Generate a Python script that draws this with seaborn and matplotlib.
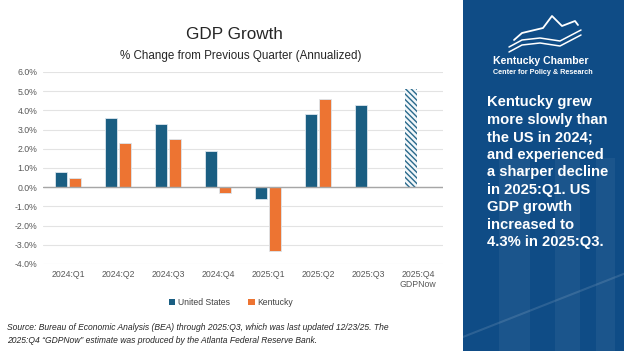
import numpy as np
import pandas as pd
import matplotlib
matplotlib.use("Agg")
import matplotlib.pyplot as plt
from matplotlib.patches import Patch, Rectangle
from matplotlib.lines import Line2D
from matplotlib.ticker import PercentFormatter
import seaborn as sns

quarters = ["2024:Q1", "2024:Q2", "2024:Q3", "2024:Q4", "2025:Q1", "2025:Q2", "2025:Q3", "2025:Q4\nGDPNow"]
us_growth = [0.8, 3.6, 3.3, 1.9, -0.6, 3.8, 4.3, 5.1]
ky_growth = [0.5, 2.3, 2.5, -0.3, -3.3, 4.6, np.nan, np.nan]
series = ["United States", "Kentucky"]
colors = ["#1a5e82", "#ed7432"]

df = pd.DataFrame({
    "Quarter": quarters * 2,
    "Growth": us_growth + ky_growth,
    "Series": [series[0]] * len(quarters) + [series[1]] * len(quarters),
})

sns.set_style("white")
plt.rcParams["font.family"] = ["Liberation Sans", "DejaVu Sans"]
plt.rcParams["axes.unicode_minus"] = False
plt.rcParams["hatch.linewidth"] = 1.0

fig = plt.figure(figsize=(6.24, 3.51), dpi=100)
ax = fig.add_axes([0.069, 0.248, 0.641, 0.547])

sns.barplot(data=df, x="Quarter", y="Growth", hue="Series", palette=colors, saturation=1,
            width=0.56, gap=0.18, ax=ax, legend=False,
            edgecolor="#dbe6ee", linewidth=0.6)

# GDPNow estimate bar is hatched
gdpnow = ax.containers[0].patches[-1]
gdpnow.set_facecolor("#f2f7fa")
gdpnow.set_edgecolor("#2a6a8c")
gdpnow.set_hatch("\\\\\\\\\\\\")
gdpnow.set_linewidth(0)

ax.set_ylim(-4, 6)
ax.set_xlim(-0.5, len(quarters) - 0.5)
ax.set_yticks(np.arange(-4, 7, 1))
ax.yaxis.set_major_formatter(PercentFormatter(decimals=1))
ax.grid(axis="y", color="#e3e3e3", linewidth=0.8)
ax.set_axisbelow(True)
ax.axhline(0, color="#a6a6a6", linewidth=1.0)
for s in ax.spines.values():
    s.set_visible(False)
ax.tick_params(axis="both", length=0, labelsize=6.3, colors="#595959", pad=4)
ax.set_xlabel("")
ax.set_ylabel("")

fig.text(0.375, 0.903, "GDP Growth", ha="center", va="center", fontsize=12.3, color="#262626")
fig.text(0.385, 0.840, "% Change from Previous Quarter (Annualized)", ha="center", va="center",
         fontsize=8.4, color="#262626")

handles = [Patch(facecolor=c, edgecolor="none") for c in colors]
fig.legend(handles, series, loc="center", bbox_to_anchor=(0.37, 0.137), ncol=2, frameon=False,
           fontsize=6.2, handlelength=0.7, handleheight=0.7, handletextpad=0.3, columnspacing=2.2,
           labelcolor="#404040")

fig.text(0.011, 0.066, "Source: Bureau of Economic Analysis (BEA) through 2025:Q3, which was last updated 12/23/25. The",
         fontsize=6.15, style="italic", color="#262626", va="center")
fig.text(0.011, 0.031, "2025:Q4 \u201cGDPNow\u201d estimate was produced by the Atlanta Federal Reserve Bank.",
         fontsize=6.15, style="italic", color="#262626", va="center")

# right-hand side panel
panel_x = 463 / 624
fig.add_artist(Rectangle((panel_x, 0), 1 - panel_x, 1, transform=fig.transFigure,
                         facecolor="#0f4c86", edgecolor="none"))
for x0, w in [(0.80, 0.05), (0.89, 0.04), (0.955, 0.03)]:
    fig.add_artist(Rectangle((x0, 0), w, 0.55, transform=fig.transFigure,
                             facecolor="#ffffff", alpha=0.05, edgecolor="none"))
fig.add_artist(Line2D([panel_x, 1], [0.04, 0.22], transform=fig.transFigure,
                      color="white", alpha=0.12, linewidth=1.5))


def px(x, y):
    return x / 624, 1 - y / 351


# logo
logo_peak = [(514, 40), (522, 33), (543, 28), (552, 16), (562, 26), (575, 21), (578, 25)]
xs, ys = zip(*[px(*p) for p in logo_peak])
fig.add_artist(Line2D(xs, ys, transform=fig.transFigure, color="white", linewidth=1.3))
for off in [0, 5]:
    swoosh = [(509, 47 + off), (522, 40 + off), (540, 38 + off), (560, 41 + off), (581, 30 + off)]
    xs, ys = zip(*[px(*p) for p in swoosh])
    fig.add_artist(Line2D(xs, ys, transform=fig.transFigure, color="white", linewidth=1.1))

fig.text(541 / 624, 1 - 61 / 351, "Kentucky Chamber", ha="center", va="center", fontsize=7.6,
         fontweight="bold", color="white")
fig.text(543 / 624, 1 - 72 / 351, "Center for Policy & Research", ha="center", va="center", fontsize=5.2,
         fontweight="bold", color="white")

blurb = ("Kentucky grew\nmore slowly than\nthe US in 2024;\nand experienced\na sharper decline\n"
         "in 2025:Q1. US\nGDP growth\nincreased to\n4.3% in 2025:Q3.")
fig.text(487 / 624, 1 - 95 / 351, blurb, ha="left", va="top", fontsize=10.6, fontweight="bold",
         color="white", linespacing=1.32)

fig.savefig("out.png", dpi=100)
